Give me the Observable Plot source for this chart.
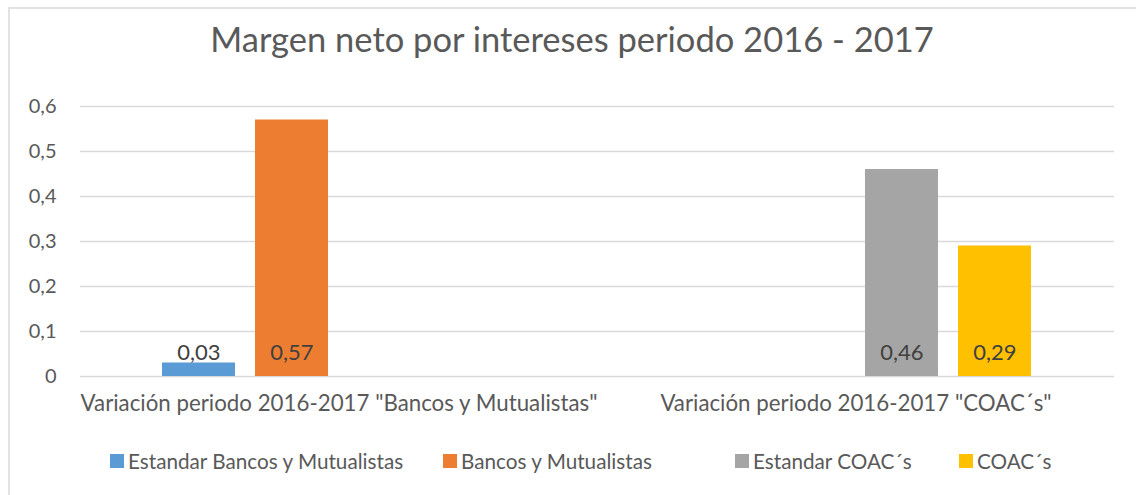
<!DOCTYPE html>
<html>
<head>
<meta charset="utf-8">
<script src="https://cdn.jsdelivr.net/npm/d3@7"></script>
<script src="https://cdn.jsdelivr.net/npm/@observablehq/plot@0.6"></script>
<style>
  html, body { margin: 0; padding: 0; background: #fff; }
  body { width: 1136px; height: 495px; overflow: hidden; position: relative; font-family: Lato, "Open Sans", sans-serif; color: #595959; }
  #frame { position: absolute; left: 8px; top: 7px; width: 1140px; height: 500px; border: 2px solid #e2e2e2; box-sizing: border-box; }
  #title { position: absolute; left: 0; top: 0; width: 1136px; height: 90px; text-align: center; font-size: 34.5px; line-height: 78px; color: #595959; padding-left: 8px; box-sizing: border-box; }
  #chart { position: absolute; left: 0; top: 90px; }
  #legend { position: absolute; left: 110px; top: 447px; display: flex; font-size: 20.7px; line-height: 28px; color: #595959; white-space: nowrap; }
  .item { display: flex; align-items: center; }
  .sw { width: 14px; height: 14px; margin-right: 4px; flex: none; }
</style>
</head>
<body>
<div id="frame"></div>
<div id="title">Margen neto por intereses periodo 2016 - 2017</div>
<div id="chart"></div>
<div id="legend"></div>
<script>
const categories = ['Variación periodo 2016-2017 "Bancos y Mutualistas"', 'Variación periodo 2016-2017 "COAC´s"'];
const series = ["Estandar Bancos y Mutualistas", "Bancos y Mutualistas", "Estandar COAC´s", "COAC´s"];
const colors = ["#5B9BD5", "#ED7D31", "#A5A5A5", "#FFC000"];
// values per category, in series order (null = no bar)
const valuesBancos = [0.03, 0.57, null, null];
const valuesCoacs = [null, null, 0.46, 0.29];
const yTicks = [0, 0.1, 0.2, 0.3, 0.4, 0.5, 0.6];

const rows = [];
[valuesBancos, valuesCoacs].forEach((vals, ci) => {
  vals.forEach((v, si) => {
    if (v != null) rows.push({cat: categories[ci], series: series[si], value: v});
  });
});

const fmt = v => v === 0 ? "0" : String(v).replace(".", ",");
const fmtLabel = v => v.toFixed(2).replace(".", ",");

const chart = Plot.plot({
  width: 1136,
  height: 340,
  marginTop: 16,
  marginBottom: 54,
  marginLeft: 79,
  marginRight: 22,
  style: {fontFamily: "Lato, 'Open Sans', sans-serif", fontSize: "20px", color: "#595959", background: "transparent"},
  facet: {data: rows, x: "cat"},
  fx: {domain: categories, padding: 0, axis: "bottom", label: null, tickSize: 0, tickPadding: 19, tickFormat: d => d},
  x: {domain: series, axis: null, paddingInner: 0.213, paddingOuter: 0.859, align: 0.5},
  y: {domain: [0, 0.6], ticks: yTicks, tickFormat: fmt, tickSize: 0, tickPadding: 24, label: null},
  color: {domain: series, range: colors},
  marks: [
    Plot.ruleY(yTicks, {stroke: "#d9d9d9", strokeWidth: 1.3}),
    Plot.barY(rows, {x: "series", y: "value", fill: "series"}),
    Plot.text(rows, {x: "series", y: () => 0, dy: -24, text: d => fmtLabel(d.value), fill: "#404040", fontSize: 22})
  ]
});
chart.querySelectorAll("g[aria-label='fx-axis tick label'] text, g[aria-label='fx-axis'] text").forEach(t => t.style.fontSize = "22.3px");
document.getElementById("chart").appendChild(chart);

const legend = document.getElementById("legend");
const itemWidths = [333, 292, 224, 120];
series.forEach((s, i) => {
  const item = document.createElement("div");
  item.className = "item";
  item.style.width = itemWidths[i] + "px";
  const sw = document.createElement("div");
  sw.className = "sw";
  sw.style.background = colors[i];
  const t = document.createElement("span");
  t.textContent = s;
  item.appendChild(sw);
  item.appendChild(t);
  legend.appendChild(item);
});
</script>
</body>
</html>
